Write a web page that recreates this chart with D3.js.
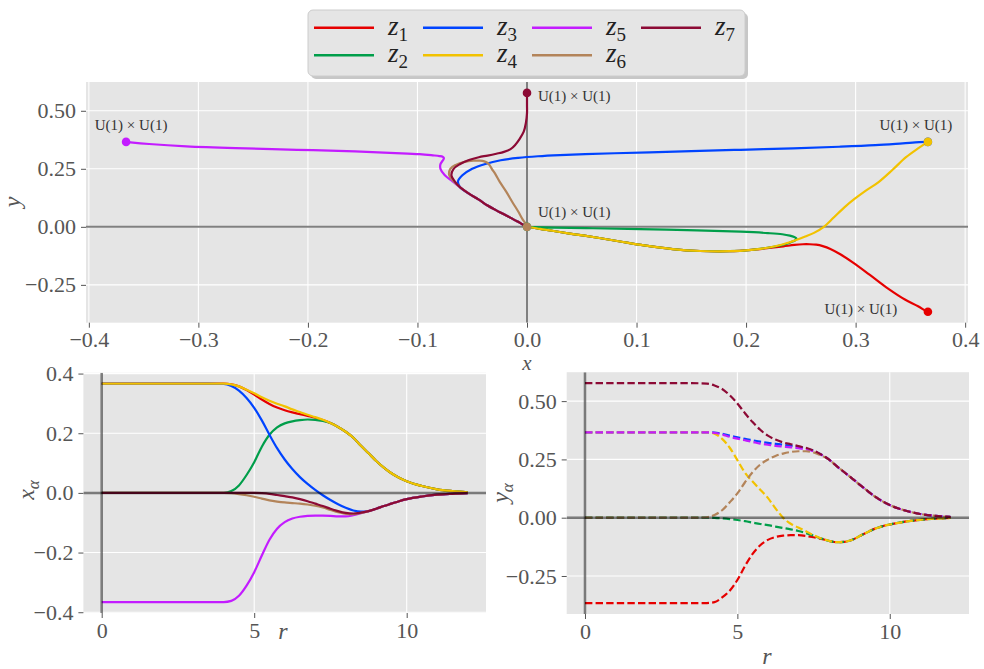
<!DOCTYPE html>
<html><head><meta charset="utf-8">
<script src="https://cdn.jsdelivr.net/npm/d3@7"></script>
<style>
body{margin:0;background:#fff}
svg text{font-family:"Liberation Serif","Times New Roman",serif}
</style>
</head><body>
<svg id="c" width="984" height="669"></svg>
<script>
// ---------------- data ----------------
const r = [0,1,2,3,3.5, 4,4.25,4.5,4.75,5, 5.25,5.5,5.75,6,6.25, 6.5,6.75,7,7.25,7.5, 7.75,8,8.25,8.5,8.75, 9,9.25,9.5,9.75,10, 10.5,11,11.5,12];

const x1 = [0.366,0.366,0.366,0.366,0.366, 0.366,0.364,0.357,0.345,0.330, 0.313,0.298,0.286,0.277,0.270, 0.264,0.258,0.252,0.244,0.234, 0.221,0.205,0.185,0.158,0.133, 0.107,0.085,0.066,0.051,0.039, 0.023,0.012,0.006,0.002];
const x2 = [0,0,0,0,0, 0,0.006,0.025,0.060,0.103, 0.155,0.195,0.220,0.233,0.240, 0.244,0.246,0.245,0.241,0.234, 0.221,0.205,0.185,0.158,0.133, 0.107,0.085,0.066,0.051,0.039, 0.023,0.012,0.006,0.002];
const x3 = [0.366,0.366,0.366,0.366,0.366, 0.365,0.358,0.343,0.318,0.285, 0.243,0.195,0.150,0.112,0.080, 0.053,0.030,0.010,-0.008,-0.024, -0.038,-0.050,-0.059,-0.063,-0.061, -0.053,-0.044,-0.036,-0.028,-0.021, -0.012,-0.006,-0.003,-0.001];
const x4 = [0.366,0.366,0.366,0.366,0.366, 0.366,0.364,0.357,0.346,0.334, 0.321,0.309,0.299,0.290,0.280, 0.271,0.262,0.254,0.245,0.234, 0.221,0.205,0.185,0.158,0.133, 0.107,0.085,0.066,0.051,0.039, 0.023,0.012,0.006,0.002];
const x5 = [-0.366,-0.366,-0.366,-0.366,-0.366, -0.366,-0.362,-0.345,-0.311,-0.266, -0.210,-0.157,-0.120,-0.098,-0.086, -0.080,-0.077,-0.076,-0.076,-0.077, -0.079,-0.079,-0.075,-0.068,-0.061, -0.053,-0.044,-0.036,-0.028,-0.021, -0.012,-0.006,-0.003,-0.001];
const x6 = [0,0,0,0,0, 0,-0.001,-0.004,-0.008,-0.013, -0.019,-0.025,-0.029,-0.032,-0.034, -0.036,-0.039,-0.043,-0.049,-0.057, -0.065,-0.070,-0.071,-0.067,-0.061, -0.053,-0.044,-0.036,-0.028,-0.021, -0.012,-0.006,-0.003,-0.001];
const x7 = [0,0,0,0,0, 0,0,0,0,0, -0.001,-0.003,-0.007,-0.011,-0.015, -0.021,-0.028,-0.036,-0.044,-0.053, -0.061,-0.067,-0.069,-0.066,-0.061, -0.053,-0.044,-0.036,-0.028,-0.021, -0.012,-0.006,-0.003,-0.001];

const y1 = [-0.366,-0.366,-0.366,-0.366,-0.366, -0.366,-0.362,-0.342,-0.313,-0.267, -0.207,-0.155,-0.118,-0.095,-0.083, -0.077,-0.075,-0.075,-0.078,-0.084, -0.091,-0.099,-0.105,-0.104,-0.096, -0.080,-0.063,-0.048,-0.037,-0.029, -0.017,-0.009,-0.004,-0.001];
const y2 = [0,0,0,0,0, 0,-0.001,-0.003,-0.006,-0.010, -0.015,-0.021,-0.027,-0.032,-0.038, -0.044,-0.050,-0.057,-0.066,-0.077, -0.089,-0.099,-0.105,-0.104,-0.096, -0.080,-0.063,-0.048,-0.037,-0.029, -0.017,-0.009,-0.004,-0.001];
const y3 = [0.366,0.366,0.366,0.366,0.366, 0.366,0.365,0.360,0.352,0.345, 0.338,0.332,0.326,0.321,0.317, 0.313,0.309,0.304,0.297,0.287, 0.271,0.250,0.222,0.196,0.170, 0.143,0.117,0.092,0.071,0.054, 0.031,0.016,0.008,0.003];
const y4 = [0.366,0.366,0.366,0.366,0.366, 0.366,0.360,0.338,0.300,0.247, 0.193,0.155,0.120,0.085,0.040, 0.000,-0.026,-0.042,-0.058,-0.075, -0.089,-0.099,-0.105,-0.104,-0.096, -0.080,-0.063,-0.048,-0.037,-0.029, -0.017,-0.009,-0.004,-0.001];
const y5 = [0.366,0.366,0.366,0.366,0.366, 0.366,0.364,0.357,0.347,0.339, 0.332,0.325,0.318,0.313,0.308, 0.305,0.302,0.298,0.293,0.285, 0.270,0.250,0.222,0.196,0.170, 0.143,0.117,0.092,0.071,0.054, 0.031,0.016,0.008,0.003];
const y6 = [0,0,0,0,0, 0.002,0.012,0.032,0.066,0.104, 0.152,0.195,0.228,0.249,0.265, 0.275,0.282,0.285,0.285,0.280, 0.267,0.250,0.222,0.196,0.170, 0.143,0.117,0.092,0.071,0.054, 0.031,0.016,0.008,0.003];
const y7 = [0.577,0.577,0.577,0.577,0.577, 0.575,0.567,0.552,0.525,0.490, 0.448,0.410,0.377,0.352,0.335, 0.323,0.315,0.307,0.300,0.288, 0.271,0.250,0.222,0.196,0.170, 0.143,0.117,0.092,0.071,0.054, 0.031,0.016,0.008,0.003];

const seriesNames = ["1","2","3","4","5","6","7"];
const seriesColors = ["#e60000","#009e4a","#0044ff","#f2c200","#c31cff","#b3845a","#8c0a35"];
const xs = [x1,x2,x3,x4,x5,x6,x7];
const ys = [y1,y2,y3,y4,y5,y6,y7];

const topXTicks = [-0.4,-0.3,-0.2,-0.1,0.0,0.1,0.2,0.3,0.4];
const topYTicks = [-0.25,0.0,0.25,0.5];
const rTicks = [0,5,10];
const xaTicks = [-0.4,-0.2,0.0,0.2,0.4];
const yaTicks = [-0.25,0.0,0.25,0.5];
const annotText = "U(1) \u00d7 U(1)";

// ---------------- drawing ----------------
const svg = d3.select("#c");
const BG = "#e5e5e5", TXT = "#555555";
const fmt = (d, p) => (d < 0 ? "\u2212" : "") + Math.abs(d).toFixed(p);

function panel(xd, yd, xr, yr, xt, yt, xp, yp) {
  const X = d3.scaleLinear().domain(xd).range(xr);
  const Y = d3.scaleLinear().domain(yd).range(yr);
  const g = svg.append("g");
  g.append("rect").attr("x", xr[0]).attr("y", yr[1]).attr("width", xr[1]-xr[0]).attr("height", yr[0]-yr[1]).attr("fill", BG);
  g.selectAll(".gx").data(xt).join("line").attr("x1", d=>X(d)).attr("x2", d=>X(d)).attr("y1", yr[0]).attr("y2", yr[1]).attr("stroke","#fff").attr("stroke-width",1.1);
  g.selectAll(".gy").data(yt).join("line").attr("y1", d=>Y(d)).attr("y2", d=>Y(d)).attr("x1", xr[0]).attr("x2", xr[1]).attr("stroke","#fff").attr("stroke-width",1.1);
  const ax = g.append("g").attr("transform", `translate(0,${yr[0]})`)
    .call(d3.axisBottom(X).tickValues(xt).tickSize(5).tickPadding(4).tickFormat(d => fmt(d, xp)));
  const ay = g.append("g").attr("transform", `translate(${xr[0]},0)`)
    .call(d3.axisLeft(Y).tickValues(yt).tickSize(5).tickPadding(5).tickFormat(d => fmt(d, yp)));
  [ax, ay].forEach(a => {
    a.select(".domain").remove();
    a.selectAll(".tick line").attr("stroke", TXT).attr("stroke-width", 1);
    a.selectAll(".tick text").attr("fill", TXT).style("font-size", "22px").style("font-family", '"Liberation Serif",serif');
  });
  const clipId = "clip" + Math.round(xr[0]) + Math.round(yr[1]);
  svg.append("clipPath").attr("id", clipId).append("rect").attr("x", xr[0]).attr("y", yr[1]).attr("width", xr[1]-xr[0]).attr("height", yr[0]-yr[1]);
  const inner = g.append("g").attr("clip-path", `url(#${clipId})`);
  return {X, Y, g, inner, xr, yr};
}

// ---- top panel ----
const T = panel([-0.4026, 0.4026], [-0.413, 0.624], [86, 968], [322.7, 82], topXTicks, topYTicks, 1, 2);
T.inner.append("line").attr("x1", T.xr[0]).attr("x2", T.xr[1]).attr("y1", T.Y(0)).attr("y2", T.Y(0)).attr("stroke", "#808080").attr("stroke-width", 2);
T.inner.append("line").attr("x1", T.X(0)).attr("x2", T.X(0)).attr("y1", T.yr[0]).attr("y2", T.yr[1]).attr("stroke", "#808080").attr("stroke-width", 2);

const topLine = d3.line().x(d => T.X(d[0])).y(d => T.Y(d[1])).curve(d3.curveCatmullRom.alpha(0.5));
xs.forEach((xa, i) => {
  const pts = [];
  xa.forEach((v, k) => {
    const p = [v, ys[i][k]];
    const last = pts[pts.length - 1];
    if (!last || last[0] !== p[0] || last[1] !== p[1]) pts.push(p);
  });
  T.inner.append("path").attr("d", topLine(pts)).attr("fill", "none").attr("stroke", seriesColors[i]).attr("stroke-width", 2.2);
});
xs.forEach((xa, i) => {
  T.inner.append("circle").attr("cx", T.X(xa[0])).attr("cy", T.Y(ys[i][0])).attr("r", 4.3).attr("fill", seriesColors[i]);
});

// annotations at r=0 points
const ann = [
  {i: 6, dx: 11, dy: 8, anchor: "start"},
  {i: 5, dx: 11, dy: -10, anchor: "start"},
  {i: 3, dx: -12, dy: -12, anchor: "middle"},
  {i: 0, dx: -67, dy: 2, anchor: "middle"},
  {i: 4, dx: 5, dy: -12, anchor: "middle"}
];
ann.forEach(a => {
  T.g.append("text").attr("x", T.X(xs[a.i][0]) + a.dx).attr("y", T.Y(ys[a.i][0]) + a.dy)
    .attr("text-anchor", a.anchor).attr("fill", "#333").style("font-size", "15px").text(annotText);
});

// ---- bottom-left ----
const BL = panel([-0.6, 12.6], [-0.4026, 0.4026], [83.4, 486], [613, 372.8], rTicks, xaTicks, 0, 1);
const blLine = d3.line().x((d, k) => BL.X(r[k])).y(d => BL.Y(d)).curve(d3.curveMonotoneX);
xs.forEach((xa, i) => {
  BL.inner.append("path").attr("d", blLine(xa)).attr("fill", "none").attr("stroke", seriesColors[i]).attr("stroke-width", 2.2);
});
BL.inner.append("line").attr("x1", BL.xr[0]).attr("x2", BL.xr[1]).attr("y1", BL.Y(0)).attr("y2", BL.Y(0)).attr("stroke", "#000").attr("stroke-opacity", 0.5).attr("stroke-width", 2.5);
BL.inner.append("line").attr("x1", BL.X(0)).attr("x2", BL.X(0)).attr("y1", BL.yr[0]).attr("y2", BL.yr[1]).attr("stroke", "#000").attr("stroke-opacity", 0.5).attr("stroke-width", 2.5);

// ---- bottom-right ----
const BR = panel([-0.6, 12.6], [-0.413, 0.624], [566.7, 969], [614, 372.2], rTicks, yaTicks, 0, 2);
const brLine = d3.line().x((d, k) => BR.X(r[k])).y(d => BR.Y(d)).curve(d3.curveMonotoneX);
ys.forEach((ya, i) => {
  BR.inner.append("path").attr("d", brLine(ya)).attr("fill", "none").attr("stroke", seriesColors[i]).attr("stroke-width", 2.2).attr("stroke-dasharray", "7.4,3.2");
});
BR.inner.append("line").attr("x1", BR.xr[0]).attr("x2", BR.xr[1]).attr("y1", BR.Y(0)).attr("y2", BR.Y(0)).attr("stroke", "#000").attr("stroke-opacity", 0.5).attr("stroke-width", 2.5);
BR.inner.append("line").attr("x1", BR.X(0)).attr("x2", BR.X(0)).attr("y1", BR.yr[0]).attr("y2", BR.yr[1]).attr("stroke", "#000").attr("stroke-opacity", 0.5).attr("stroke-width", 2.5);

// ---- axis labels ----
function label(x, y, main, sub, rot, size) {
  const t = svg.append("text").attr("transform", `translate(${x},${y}) rotate(${rot})`)
    .attr("text-anchor", "middle").attr("fill", TXT).style("font-size", (size || 24) + "px");
  t.append("tspan").style("font-style", "italic").text(main);
  if (sub) t.append("tspan").attr("dy", 5).style("font-size", "17px").style("font-style", "italic").text(sub);
}
label(527, 370, "x", null, 0, 21);
label(20, 202, "y", null, -90);
label(283, 639, "r", null, 0);
label(767, 664, "r", null, 0);
label(34, 490, "x", "\u03b1", -90);
label(508, 493, "y", "\u03b1", -90);

// ---- legend ----
const lg = svg.append("g");
lg.append("rect").attr("x", 311).attr("y", 13).attr("width", 437).attr("height", 66).attr("rx", 5).attr("fill", "#999").attr("opacity", 0.55);
lg.append("rect").attr("x", 308).attr("y", 10).attr("width", 437).attr("height", 66).attr("rx", 5).attr("fill", BG).attr("stroke", "#cccccc").attr("stroke-width", 1);
const colX = [314, 423, 532, 641];
const rowY = [27.7, 55.3];
seriesNames.forEach((n, i) => {
  const col = Math.floor(i / 2), row = i % 2;
  const lx = colX[col], ly = rowY[row];
  lg.append("line").attr("x1", lx).attr("x2", lx + 60).attr("y1", ly).attr("y2", ly).attr("stroke", seriesColors[i]).attr("stroke-width", 2.5);
  const t = lg.append("text").attr("x", lx + 74).attr("y", ly + 7).attr("fill", "#222").style("font-size", "27px");
  t.append("tspan").style("font-style", "italic").text("z");
  t.append("tspan").attr("dy", 6).style("font-size", "19px").text(n);
});
</script>
</body></html>
